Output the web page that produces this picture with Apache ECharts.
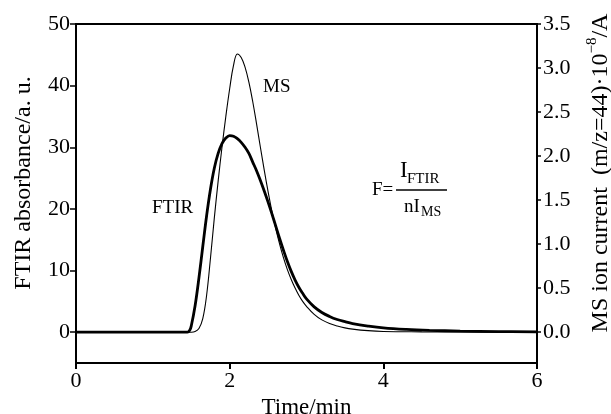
<!DOCTYPE html>
<html>
<head>
<meta charset="utf-8">
<script src="https://cdn.jsdelivr.net/npm/echarts@6/dist/echarts.min.js"></script>
<style>html,body{margin:0;padding:0;background:#fff}#c{width:611px;height:414px}</style>
</head>
<body>
<div id="c"></div>
<script>
// ---- data ----
var xTicks = [0, 2, 4, 6];
var leftTicks = [0, 10, 20, 30, 40, 50];
var rightTicks = [0, 0.5, 1.0, 1.5, 2.0, 2.5, 3.0, 3.5];

var timeFTIR = [0, 1.0, 1.4, 1.45, 1.48, 1.5, 1.55, 1.6, 1.65, 1.7, 1.75, 1.8, 1.85, 1.9, 1.95, 2.0, 2.05, 2.1, 2.15, 2.2, 2.25, 2.3, 2.35, 2.4, 2.45, 2.5, 2.55, 2.6, 2.65, 2.7, 2.75, 2.8, 2.85, 2.9, 2.95, 3.0, 3.1, 3.2, 3.3, 3.4, 3.5, 3.6, 3.8, 4.0, 4.3, 4.6, 5.0, 5.5, 6.0];
var valuesFTIR = [0, 0, 0, 0, 0.3, 1.0, 4.3, 8.8, 13.9, 18.9, 23.2, 26.6, 29.0, 30.6, 31.5, 31.9, 31.8, 31.4, 30.8, 30.0, 29.0, 27.6, 26.2, 24.6, 22.9, 21.1, 19.2, 17.2, 15.2, 13.3, 11.5, 9.9, 8.5, 7.3, 6.3, 5.4, 4.1, 3.2, 2.55, 2.05, 1.7, 1.4, 1.0, 0.7, 0.45, 0.3, 0.18, 0.1, 0.05];

var timeMS = [0, 1.0, 1.5, 1.55, 1.6, 1.65, 1.7, 1.75, 1.8, 1.85, 1.9, 1.95, 2.0, 2.05, 2.1, 2.15, 2.2, 2.25, 2.3, 2.35, 2.4, 2.45, 2.5, 2.55, 2.6, 2.65, 2.7, 2.75, 2.8, 2.85, 2.9, 2.95, 3.0, 3.1, 3.2, 3.3, 3.4, 3.5, 3.6, 3.8, 4.0, 4.5, 5.0, 6.0];
var valuesMS = [0, 0, 0, 0.007, 0.042, 0.154, 0.42, 0.84, 1.295, 1.715, 2.10, 2.45, 2.765, 3.03, 3.16, 3.12, 3.01, 2.84, 2.62, 2.366, 2.10, 1.841, 1.596, 1.372, 1.176, 1.001, 0.847, 0.714, 0.602, 0.504, 0.42, 0.35, 0.294, 0.203, 0.14, 0.098, 0.07, 0.049, 0.035, 0.0175, 0.0084, 0.0035, 0.0014, 0];

function pairs(xs, ys) { return xs.map(function (x, i) { return [x, ys[i]]; }); }

var FONT = 'Liberation Serif, Times New Roman, serif';
var chart = echarts.init(document.getElementById('c'), null, {renderer: 'canvas'});

var option = {
  animation: false,
  backgroundColor: '#fff',
  grid: {left: 76, right: 74, top: 24, bottom: 51, containLabel: false, outerBoundsMode: 'none',
    show: true, borderColor: '#000', borderWidth: 2, backgroundColor: 'transparent'},
  xAxis: {
    type: 'value', min: 0, max: 6,
    name: 'Time/min', nameLocation: 'middle', nameGap: 27,
    nameTextStyle: {fontFamily: FONT, fontSize: 23, color: '#000'},
    axisLine: {show: true, onZero: false, lineStyle: {color: '#000', width: 2}},
    axisTick: {show: true, inside: false, length: 6, lineStyle: {color: '#000', width: 2}, customValues: xTicks},
    axisLabel: {fontFamily: FONT, fontSize: 22, color: '#000', margin: 7, customValues: xTicks},
    splitLine: {show: false}
  },
  yAxis: [{
    type: 'value', min: -5, max: 50, position: 'left',
    axisLine: {show: true, onZero: false, lineStyle: {color: '#000', width: 2}},
    axisTick: {show: true, inside: false, length: 6, lineStyle: {color: '#000', width: 1.5}, customValues: leftTicks},
    axisLabel: {fontFamily: FONT, fontSize: 22, color: '#000', margin: 6, customValues: leftTicks},
    splitLine: {show: false}
  }, {
    type: 'value', min: -0.35, max: 3.5, position: 'right',
    axisLine: {show: true, onZero: false, lineStyle: {color: '#000', width: 2}},
    axisTick: {show: true, inside: false, length: 4, lineStyle: {color: '#000', width: 1.5}, customValues: rightTicks},
    axisLabel: {fontFamily: FONT, fontSize: 22, color: '#000', margin: 6, customValues: rightTicks,
      formatter: function (v) { return v.toFixed(1); }},
    splitLine: {show: false}
  }],
  series: [{
    name: 'MS', type: 'line', yAxisIndex: 1, data: pairs(timeMS, valuesMS),
    showSymbol: false, smooth: 0.4,
    lineStyle: {color: '#000', width: 1.1}, z: 2
  }, {
    name: 'FTIR', type: 'line', yAxisIndex: 0, data: pairs(timeFTIR, valuesFTIR),
    showSymbol: false, smooth: 0.4,
    lineStyle: {color: '#000', width: 2.8}, z: 3
  }],
  graphic: [
    {type: 'text', x: 24, y: 183, rotation: Math.PI / 2,
      style: {text: 'FTIR absorbance/a. u.', font: '24px ' + FONT, fill: '#000', align: 'center', verticalAlign: 'middle'}},
    {type: 'text', x: 599, y: 173, rotation: Math.PI / 2,
      style: {text: '{n|MS ion current  (m/z=44)·10}{s|−8}{n|/A}', font: '24px ' + FONT, fill: '#000', align: 'center', verticalAlign: 'middle',
        rich: {n: {fontFamily: FONT, fontSize: 24, lineHeight: 28, verticalAlign: 'bottom'}, s: {fontFamily: FONT, fontSize: 15, lineHeight: 28, verticalAlign: 'top'}}}},
    {type: 'text', x: 263, y: 87, style: {text: 'MS', font: '19px ' + FONT, fill: '#000', verticalAlign: 'middle'}},
    {type: 'text', x: 152, y: 208, style: {text: 'FTIR', font: '19px ' + FONT, fill: '#000', verticalAlign: 'middle'}},
    {type: 'text', x: 372, y: 190, style: {text: 'F=', font: '19px ' + FONT, fill: '#000', verticalAlign: 'middle'}},
    {type: 'text', x: 400, y: 171, style: {text: 'I', font: '23px ' + FONT, fill: '#000', verticalAlign: 'middle'}},
    {type: 'text', x: 407, y: 179, style: {text: 'FTIR', font: '15px ' + FONT, fill: '#000', verticalAlign: 'middle'}},
    {type: 'line', shape: {x1: 396, y1: 190, x2: 447, y2: 190}, style: {stroke: '#000', lineWidth: 1.5}},
    {type: 'text', x: 404, y: 207, style: {text: 'nI', font: '19px ' + FONT, fill: '#000', verticalAlign: 'middle'}},
    {type: 'text', x: 421, y: 212, style: {text: 'MS', font: '14px ' + FONT, fill: '#000', verticalAlign: 'middle'}}
  ]
};
chart.setOption(option);
</script>
</body>
</html>
